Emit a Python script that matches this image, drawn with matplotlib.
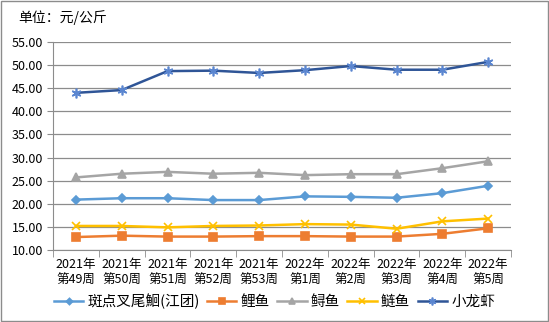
import matplotlib
matplotlib.use("Agg")
import matplotlib.pyplot as plt
from matplotlib.patches import Rectangle

plt.rcParams["font.family"] = ["Noto Sans CJK SC", "DejaVu Sans"]

weeks = ["2021年\n第49周", "2021年\n第50周", "2021年\n第51周", "2021年\n第52周", "2021年\n第53周",
         "2022年\n第1周", "2022年\n第2周", "2022年\n第3周", "2022年\n第4周", "2022年\n第5周"]
catfish = [20.9, 21.2, 21.2, 20.8, 20.8, 21.6, 21.5, 21.3, 22.3, 23.9]
carp = [12.8, 13.1, 12.9, 12.9, 13.0, 13.0, 12.9, 12.9, 13.5, 14.7]
sturgeon = [25.7, 26.5, 26.9, 26.5, 26.7, 26.2, 26.4, 26.4, 27.7, 29.2]
silver_carp = [15.2, 15.2, 14.9, 15.2, 15.3, 15.6, 15.5, 14.6, 16.2, 16.8]
crayfish = [44.0, 44.6, 48.7, 48.8, 48.3, 48.9, 49.8, 49.0, 49.0, 50.7]

series = [
    ("斑点叉尾鮰(江团)", catfish, "#5B9BD5", "#5B9BD5", "D", 4),
    ("鲤鱼", carp, "#ED7D31", "#ED7D31", "s", 5.5),
    ("鲟鱼", sturgeon, "#A5A5A5", "#A5A5A5", "^", 6),
    ("鲢鱼", silver_carp, "#FFC000", "#FFC000", "x", 6),
    ("小龙虾", crayfish, "#2F5597", "#5B86D0", (6, 2, 0), 7),
]

fig = plt.figure(figsize=(5.49, 3.22), dpi=100)
ax = fig.add_axes([0.0965, 0.2236, 0.8345, 0.646])

x = list(range(len(weeks)))
for name, vals, lc, mc, mk, ms in series:
    ax.plot(x, vals, color=lc, linewidth=1.8, marker=mk, markersize=ms,
            markerfacecolor=mc, markeredgecolor=mc, markeredgewidth=1.2, label=name)

ax.set_xlim(-0.5, len(weeks) - 0.5)
ax.set_ylim(10, 55)
ax.set_yticks([10 + 5 * i for i in range(10)])
ax.set_yticklabels([f"{10 + 5 * i:.2f}" for i in range(10)], fontsize=9)
ax.yaxis.grid(True, color="#8C8C8C", linewidth=0.9)
ax.set_axisbelow(True)

ax.set_xticks(x)
ax.set_xticklabels(weeks, fontsize=9, linespacing=1.3)
ax.tick_params(axis="x", length=0, pad=6)
ax.set_xticks([i - 0.5 for i in range(len(weeks) + 1)], minor=True)
ax.tick_params(axis="x", which="minor", length=5, color="#8C8C8C")
ax.tick_params(axis="y", length=4, color="#8C8C8C", pad=3)

for s in ["top", "right"]:
    ax.spines[s].set_visible(False)
ax.spines["left"].set_color("#8C8C8C")
ax.spines["bottom"].set_color("#8C8C8C")

fig.text(0.033, 0.945, "单位：元/公斤", fontsize=10, va="center")

fig.legend(loc="lower center", bbox_to_anchor=(0.5, 0.0), ncol=5, frameon=False,
           fontsize=10.5, handlelength=2.0, columnspacing=0.5, handletextpad=0.3,
           markerscale=0.8)

fig.patches.append(Rectangle((0.001, 0.002), 0.997, 0.995, transform=fig.transFigure,
                             fill=False, edgecolor="#8C8C8C", linewidth=1))

fig.savefig("out.png", dpi=100)
